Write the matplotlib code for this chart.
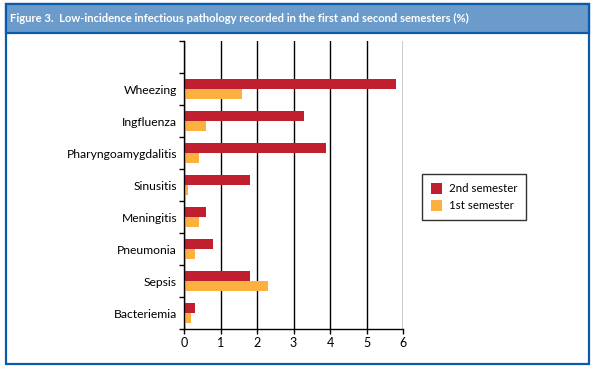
import matplotlib
matplotlib.use("Agg")
import matplotlib.pyplot as plt
from matplotlib.patches import Rectangle
import numpy as np

categories = ["Wheezing", "Ingfluenza", "Pharyngoamygdalitis", "Sinusitis",
              "Meningitis", "Pneumonia", "Sepsis", "Bacteriemia"]
second_sem = [5.8, 3.3, 3.9, 1.8, 0.6, 0.8, 1.8, 0.3]
first_sem = [1.6, 0.6, 0.4, 0.1, 0.4, 0.3, 2.3, 0.2]
xticks = [0, 1, 2, 3, 4, 5, 6]
title = "Figure 3.  Low-incidence infectious pathology recorded in the first and second semesters (%)"

RED = "#C01F2F"
ORANGE = "#FBB040"
BLUE = "#0A5BAA"
TITLEBG = "#6B9BCB"

plt.rcParams['font.family'] = ['Lato', 'DejaVu Sans']

W, H = 593, 369
fig = plt.figure(figsize=(W / 100, H / 100), dpi=100)

# frame
fig.patches.append(Rectangle((5.5 / W, (H - 363.5) / H), (588.5 - 5.5) / W, (363.5 - 4) / H,
                             transform=fig.transFigure, fill=False, edgecolor=BLUE, lw=1.6))
fig.patches.append(Rectangle((5.5 / W, (H - 33) / H), (588.5 - 5.5) / W, (33 - 4) / H,
                             transform=fig.transFigure, facecolor=TITLEBG, edgecolor=BLUE, lw=1.6))
fig.text(10 / W, (H - 18.5) / H, title, color="white", fontweight="bold", fontsize=8.1,
         va="center", ha="left")

ax = fig.add_axes([184 / W, (H - 329) / H, (403 - 184) / W, (329 - 41) / H])
n = len(categories)
pos = np.arange(n)[::-1]  # Wheezing at top
bh = 0.3125
ax.barh(pos + bh / 2, second_sem, height=bh, color=RED, label="2nd semester", zorder=3)
ax.barh(pos - bh / 2, first_sem, height=bh, color=ORANGE, label="1st semester", zorder=3)

ax.set_xlim(0, 6)
ax.set_ylim(-0.5, n + 0.5)
ax.set_xticks(xticks)
ax.set_xticklabels([str(t) for t in xticks], fontsize=9)
ax.set_yticks(np.arange(-0.5, n + 0.6, 1))
ax.set_yticklabels([])
ax.set_yticks(pos, minor=True)
ax.set_yticklabels(categories, minor=True, fontsize=8.7)
ax.tick_params(axis="y", which="minor", length=0, pad=5)
ax.tick_params(axis="y", which="major", length=3.5, width=1, direction="out")
ax.tick_params(axis="x", length=3.5, width=1, direction="out", pad=2)
ax.grid(axis="x", color="black", lw=1, zorder=1)
for s in ["top", "right"]:
    ax.spines[s].set_visible(False)
for s in ["left", "bottom"]:
    ax.spines[s].set_linewidth(1)
    ax.spines[s].set_zorder(4)

leg = fig.legend(loc="upper left", bbox_to_anchor=(422 / W, (H - 174) / H),
                 fontsize=8.3, frameon=True, fancybox=False, edgecolor="black",
                 handlelength=1.0, handleheight=1.1, borderpad=0.75, labelspacing=0.5,
                 handletextpad=0.6, borderaxespad=0)
leg.get_frame().set_linewidth(1)

fig.savefig("out.png", dpi=100)
